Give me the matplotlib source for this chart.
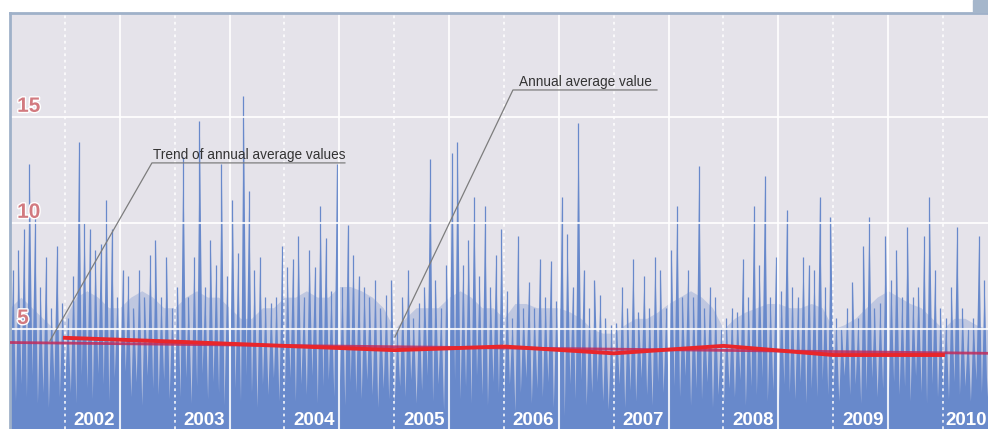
import numpy as np
import matplotlib
matplotlib.use('Agg')
import matplotlib.pyplot as plt
import matplotlib.patheffects as pe
from matplotlib.patches import Rectangle

plt.rcParams['font.family'] = ['Liberation Sans', 'DejaVu Sans']

# spike heights, read about every 18 days (20 per year), second half of 2001 first
peak_2001 = [7.8, 8.7, 9.7, 12.8, 10.3, 7.0, 8.4, 6.0, 8.9, 6.2]
peak_2002 = [5.5, 7.5, 13.8, 10.0, 9.7, 8.7, 9.0, 11.1, 9.7, 6.5,
             7.8, 7.5, 6.0, 7.8, 6.5, 8.5, 9.2, 6.5, 8.4, 6.0]
peak_2003 = [7.0, 13.1, 6.5, 8.4, 14.8, 7.0, 9.2, 8.0, 12.8, 7.5,
             11.1, 8.6, 16.0, 11.5, 7.8, 8.4, 6.5, 6.2, 6.5, 8.9]
peak_2004 = [7.9, 8.3, 9.4, 6.5, 8.7, 7.9, 10.8, 9.3, 6.8, 12.8,
             7.0, 9.9, 8.5, 7.5, 7.0, 6.5, 7.3, 6.0, 6.6, 7.3]
peak_2005 = [5.0, 6.5, 7.8, 5.5, 6.2, 7.0, 13.0, 7.3, 6.0, 8.0,
             13.3, 13.8, 8.0, 9.2, 11.2, 7.5, 10.8, 7.0, 8.5, 9.7]
peak_2006 = [6.8, 5.5, 9.4, 6.0, 7.2, 6.0, 8.3, 6.5, 8.2, 6.3,
             11.2, 9.5, 7.0, 14.7, 7.8, 6.0, 7.3, 6.6, 5.5, 5.2]
peak_2007 = [5.3, 7.0, 6.0, 8.3, 5.8, 7.5, 6.0, 8.4, 7.8, 6.0,
             8.7, 10.8, 6.5, 7.8, 6.5, 12.7, 6.0, 7.0, 6.5, 5.0]
peak_2008 = [5.5, 6.0, 5.8, 8.3, 6.5, 10.8, 8.0, 12.2, 6.5, 8.4,
             6.8, 10.6, 7.0, 6.5, 8.4, 8.0, 7.8, 11.2, 7.0, 10.3]
peak_2009 = [5.5, 5.0, 6.0, 7.2, 5.5, 8.9, 10.3, 6.0, 6.2, 9.4,
             7.3, 8.7, 6.5, 9.8, 6.5, 7.0, 9.4, 11.2, 7.8, 6.0]
peak_2010 = [5.5, 7.0, 9.8, 6.0, 5.0, 5.5, 9.4, 7.3, 6.0]

# lowest values between the spikes
low_2001 = [2.2, 1.6, 2.4, 1.8, 2.8, 1.5, 2.0, 1.3, 2.5, 1.8]
low_2002 = [2.6, 2.0, 1.5, 2.8, 2.2, 1.7, 2.9, 2.4, 1.6, 2.7,
            2.0, 3.0, 1.8, 2.5, 1.4, 2.8, 2.2, 1.9, 2.6, 1.7]
low_2003 = [2.4, 1.8, 2.7, 1.5, 2.3, 2.9, 1.7, 2.5, 2.0, 1.4,
            2.6, 2.2, 1.6, 2.8, 2.0, 1.3, 2.4, 1.9, 2.7, 1.6]
low_2004 = [2.1, 2.7, 1.6, 2.4, 1.9, 2.8, 1.5, 2.3, 2.6, 1.8,
            2.2, 1.4, 2.5, 2.0, 1.7, 2.6, 1.9, 1.3, 2.2, 1.7]
low_2005 = [1.4, 2.3, 1.8, 2.6, 1.5, 2.1, 2.8, 1.6, 2.4, 1.2,
            2.0, 2.6, 1.7, 2.3, 1.5, 2.8, 1.9, 1.4, 2.5, 2.0]
low_2006 = [1.6, 2.4, 1.1, 2.0, 2.7, 1.5, 2.2, 1.8, 2.5, 1.3,
            2.1, 0.9, 2.4, 1.7, 2.6, 1.4, 2.0, 2.5, 1.6, 1.2]
low_2007 = [1.8, 2.4, 1.3, 2.1, 1.6, 2.7, 1.9, 1.4, 2.5, 2.0,
            1.5, 2.3, 1.8, 2.8, 1.4, 2.2, 1.7, 2.5, 1.3, 1.9]
low_2008 = [1.5, 2.2, 1.8, 2.6, 1.4, 2.3, 1.9, 2.7, 1.6, 2.1,
            1.3, 2.4, 2.0, 1.7, 2.5, 1.5, 2.2, 1.8, 2.6, 1.9]
low_2009 = [2.3, 1.6, 2.8, 1.9, 2.4, 1.5, 2.1, 2.7, 1.8, 2.2,
            1.4, 2.5, 1.9, 2.3, 1.6, 2.8, 2.0, 1.5, 2.4, 1.8]
low_2010 = [2.2, 1.7, 2.5, 1.9, 2.3, 1.6, 2.6, 2.0, 1.8]

# level of the dense part of the spikes, read every 36 days (10 per year)
haze_2001 = [6.0, 6.5, 6.0, 5.5, 5.0]
haze_2002 = [5.5, 6.5, 6.8, 6.5, 6.0, 6.0, 6.5, 6.8, 6.5, 6.0]
haze_2003 = [6.0, 6.5, 6.8, 6.5, 6.5, 6.0, 5.5, 5.5, 6.0, 6.0]
haze_2004 = [6.5, 6.5, 6.8, 6.5, 6.5, 7.0, 7.0, 6.8, 6.5, 6.0]
haze_2005 = [5.0, 5.5, 6.0, 6.0, 6.0, 6.5, 6.8, 6.5, 6.0, 6.0]
haze_2006 = [5.5, 6.2, 6.2, 6.0, 6.0, 6.0, 5.8, 5.5, 5.0, 4.8]
haze_2007 = [4.8, 5.2, 5.5, 5.5, 5.8, 6.2, 6.5, 6.8, 6.5, 6.0]
haze_2008 = [5.0, 5.5, 5.8, 6.0, 6.2, 6.2, 6.0, 6.0, 6.2, 6.0]
haze_2009 = [5.0, 5.2, 5.5, 6.0, 6.5, 6.8, 6.5, 6.2, 6.0, 5.5]
haze_2010 = [5.0, 5.5, 5.5, 5.2, 5.0, 5.0]

# annual averages (at the start of each year) and the linear trend
avg_years = [2002, 2003, 2004, 2005, 2006, 2007, 2008, 2009, 2010]
avg_values = [4.58, 4.40, 4.20, 4.00, 4.17, 3.85, 4.20, 3.77, 3.77]
trend_years = [2001.5, 2010.42]
trend_values = [4.36, 3.85]

year_labels = ['2002', '2003', '2004', '2005', '2006', '2007', '2008', '2009', '2010']
y_labels = [5, 10, 15]

peaks = np.array(peak_2001 + peak_2002 + peak_2003 + peak_2004 + peak_2005 +
                 peak_2006 + peak_2007 + peak_2008 + peak_2009 + peak_2010)
lows = np.array(low_2001 + low_2002 + low_2003 + low_2004 + low_2005 +
                low_2006 + low_2007 + low_2008 + low_2009 + low_2010)
haze = np.array(haze_2001 + haze_2002 + haze_2003 + haze_2004 + haze_2005 +
                haze_2006 + haze_2007 + haze_2008 + haze_2009 + haze_2010)

n = len(peaks)
col_left = 2001.5 + np.arange(n) / 20.0
col_mid = col_left + 1 / 40.0
xs = np.empty(2 * n)
ys = np.empty(2 * n)
xs[0::2] = col_left
xs[1::2] = col_mid
ys[0::2] = lows
ys[1::2] = peaks
haze_x = 2001.5 + np.arange(len(haze)) / 10.0

blue = '#6889cb'
bg = '#e5e3ea'
x_right = 2010.41

fig = plt.figure(figsize=(9.88, 4.29), dpi=100, facecolor='white')
ax = fig.add_axes([10 / 988, 0, 978 / 988, 416 / 429])
ax.set_facecolor(bg)

ax.fill_between(haze_x, 0, haze, color=blue, alpha=0.3, linewidth=0, zorder=1)
ax.fill_between(xs, 0, ys, color=blue, linewidth=0, zorder=1)
ax.vlines(col_mid, 0, peaks, color=blue, linewidth=0.9, zorder=1)

# grid: dotted at year starts, solid at mid-year, horizontal every 5
for yr in avg_years:
    ax.axvline(yr, color='white', linewidth=1.3, linestyle=(0, (1.5, 2)), alpha=0.85, zorder=2)
for yr in range(2002, 2010):
    ax.axvline(yr + 0.5, color='white', linewidth=1.5, alpha=0.85, zorder=2)
for v in y_labels:
    ax.axhline(v, color='white', linewidth=1.5, alpha=0.85, zorder=2)

ax.plot(trend_years, trend_values, color='#c02c5c', linewidth=2.0, alpha=0.85, zorder=4)
ax.plot(avg_years, avg_values, color='#e8262b', linewidth=2.8, zorder=5)

# y labels inside the plot
for v in y_labels:
    ax.text(2001.565, v + 0.05, str(v), color='#d27a80', fontsize=15, fontweight='bold',
            va='bottom', ha='left', zorder=6,
            path_effects=[pe.withStroke(linewidth=2, foreground='white')])

# year labels along the bottom (last one pushed against the right edge)
for yr, lab in zip(avg_years, year_labels):
    if yr == avg_years[-1]:
        ax.text(x_right - 0.01, 0.45, lab, color='white', fontsize=13.5, fontweight='bold',
                va='baseline', ha='right', zorder=6)
    else:
        ax.text(yr + 0.08, 0.45, lab, color='white', fontsize=13.5, fontweight='bold',
                va='baseline', ha='left', zorder=6)

# callouts
ax.plot([2001.863, 2002.793, 2004.551], [4.43, 12.83, 12.83], color='#7d7d7d', linewidth=0.9, zorder=6)
ax.text(2002.80, 13.0, 'Trend of annual average values', fontsize=9.8, color='#333333',
        va='baseline', ha='left', zorder=7)
ax.plot([2005.007, 2006.082, 2007.394], [4.62, 16.27, 16.27], color='#7d7d7d', linewidth=0.9, zorder=6)
ax.text(2006.14, 16.45, 'Annual average value', fontsize=9.8, color='#333333',
        va='baseline', ha='left', zorder=7)

ax.set_xlim(2001.5, x_right)
ax.set_ylim(0.28, 19.9)
ax.set_xticks([])
ax.set_yticks([])
for side in ['right', 'bottom']:
    ax.spines[side].set_visible(False)
for side in ['left', 'top']:
    ax.spines[side].set_color('#9fb1c9')
    ax.spines[side].set_linewidth(2)

fig.patches.append(Rectangle((973 / 988, 1 - 12 / 429), 15 / 988, 12 / 429,
                             transform=fig.transFigure, color='#a5b6cb', zorder=0))

fig.savefig('out.png', dpi=100, facecolor='white')
